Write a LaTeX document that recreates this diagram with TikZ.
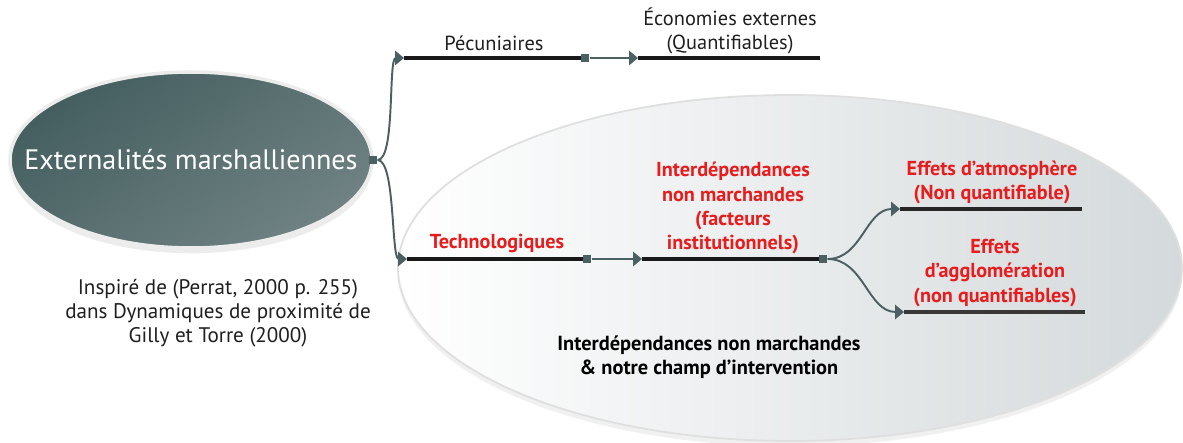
\documentclass[tikz,border=0pt]{standalone}
\usepackage{fontspec}
\setmainfont{PT Sans}
\usepackage{tikz}
\usetikzlibrary{arrows.meta,shapes,positioning,shadows}
\usepackage{xcolor}
\definecolor{slate}{RGB}{74,96,98}
\definecolor{extTop}{RGB}{68,94,95}
\definecolor{extBot}{RGB}{112,130,131}
\definecolor{fieldR}{RGB}{212,217,219}
\definecolor{dfred}{RGB}{232,28,28}
\tikzstyle{link} = [line width=1.1pt,-{Triangle[length=5pt,width=8pt]},color=slate]
\tikzstyle{bar} = [line width=2.8pt,color=black!90]
\tikzstyle{knot} = [rectangle,fill=slate,minimum size=0.17cm,inner sep=0pt]
\tikzstyle{lbl} = [align=center,font=\fontsize{11.6}{13.7}\selectfont,text=black!88]
\tikzstyle{redlbl} = [align=center,font=\fontsize{11.5}{13.7}\selectfont\bfseries,text=dfred]

\begin{document}
\begin{tikzpicture}
\useasboundingbox (0,0) rectangle (23.66,8.86);

% Ellipses
\node[ellipse, minimum width=15.68cm, minimum height=6.92cm, inner sep=0pt,
      draw=gray!25, line width=1pt, left color=white, right color=fieldR,
      drop shadow={shadow xshift=0pt, shadow yshift=-3pt, opacity=0.12}] (champ) at (15.8,3.5) {};
\node[ellipse, minimum width=7.24cm, minimum height=3.52cm, inner sep=0pt,
      draw=gray!15, line width=2pt, top color=extTop, bottom color=extBot, shading angle=35,
      drop shadow={shadow xshift=0pt, shadow yshift=-3pt, opacity=0.15}] (extern) at (3.82,5.66) {};
\node[text=white, font=\fontsize{16}{18}\selectfont] (externT) at (extern) {Externalités marshalliennes};

% Line ends
\coordinate (pecL) at (8.08,7.70);
\coordinate (pecR) at (11.62,7.70);
\coordinate (ecoL) at (12.76,7.70);
\coordinate (ecoR) at (16.40,7.70);
\coordinate (techL) at (8.14,3.68);
\coordinate (techR) at (11.68,3.68);
\coordinate (intL) at (12.84,3.68);
\coordinate (intR) at (16.40,3.68);
\coordinate (atmL) at (18.0,4.68);
\coordinate (atmR) at (21.64,4.68);
\coordinate (aggL) at (18.08,2.62);
\coordinate (aggR) at (21.70,2.62);

% Bars
\draw[bar] (pecL) -- (pecR);
\draw[bar] (ecoL) -- (ecoR);
\draw[bar] (techL) -- (techR);
\draw[bar] (intL) -- (intR);
\draw[bar, black!85] (atmL) -- (atmR);
\draw[bar, black!78] (aggL) -- (aggR);

% Knots
\node[knot] (k0) at (7.46,5.66) {};
\node[knot] (k1) at (11.70,7.70) {};
\node[knot] (k2) at (11.74,3.68) {};
\node[knot] (k3) at (16.46,3.68) {};

% Links
\draw[link] (k0.east) .. controls +(0.36,0) and +(-0.32,0) .. (pecL);
\draw[link] (k0.east) .. controls +(0.36,0) and +(-0.32,0) .. (techL);
\draw[link] (k1.east) -- (ecoL);
\draw[link] (k2.east) -- (intL);
\draw[link] (k3.east) to[out=0,in=180] (atmL);
\draw[link] (k3.east) to[out=0,in=180] (aggL);

% Labels
\node[lbl] (pecT) at (9.88,8.0) {Pécuniaires};
\node[lbl] (ecoT) at (14.6,8.24) {Économies externes\\(Quantifiables)};
\node[redlbl] (techT) at (9.94,4.0) {Technologiques};
\node[redlbl] (intT) at (14.66,4.70) {Interdépendances\\non marchandes\\(facteurs\\institutionnels)};
\node[redlbl] (atmT) at (19.84,5.22) {Effets d’atmosphère\\(Non quantifiable)};
\node[redlbl] (aggT) at (19.9,3.40) {Effets\\d’agglomération\\(non quantifiables)};
\node[lbl, font=\fontsize{11.6}{13.7}\selectfont\bfseries, text=black] (champT) at (14.18,1.72) {Interdépendances non marchandes\\\& notre champ d’intervention};
\node[lbl, font=\fontsize{12}{13.7}\selectfont] (srcT) at (4.36,2.6) {Inspiré de (Perrat, 2000 p. 255)\\dans Dynamiques de proximité de\\Gilly et Torre (2000)};
\end{tikzpicture}
\end{document}
